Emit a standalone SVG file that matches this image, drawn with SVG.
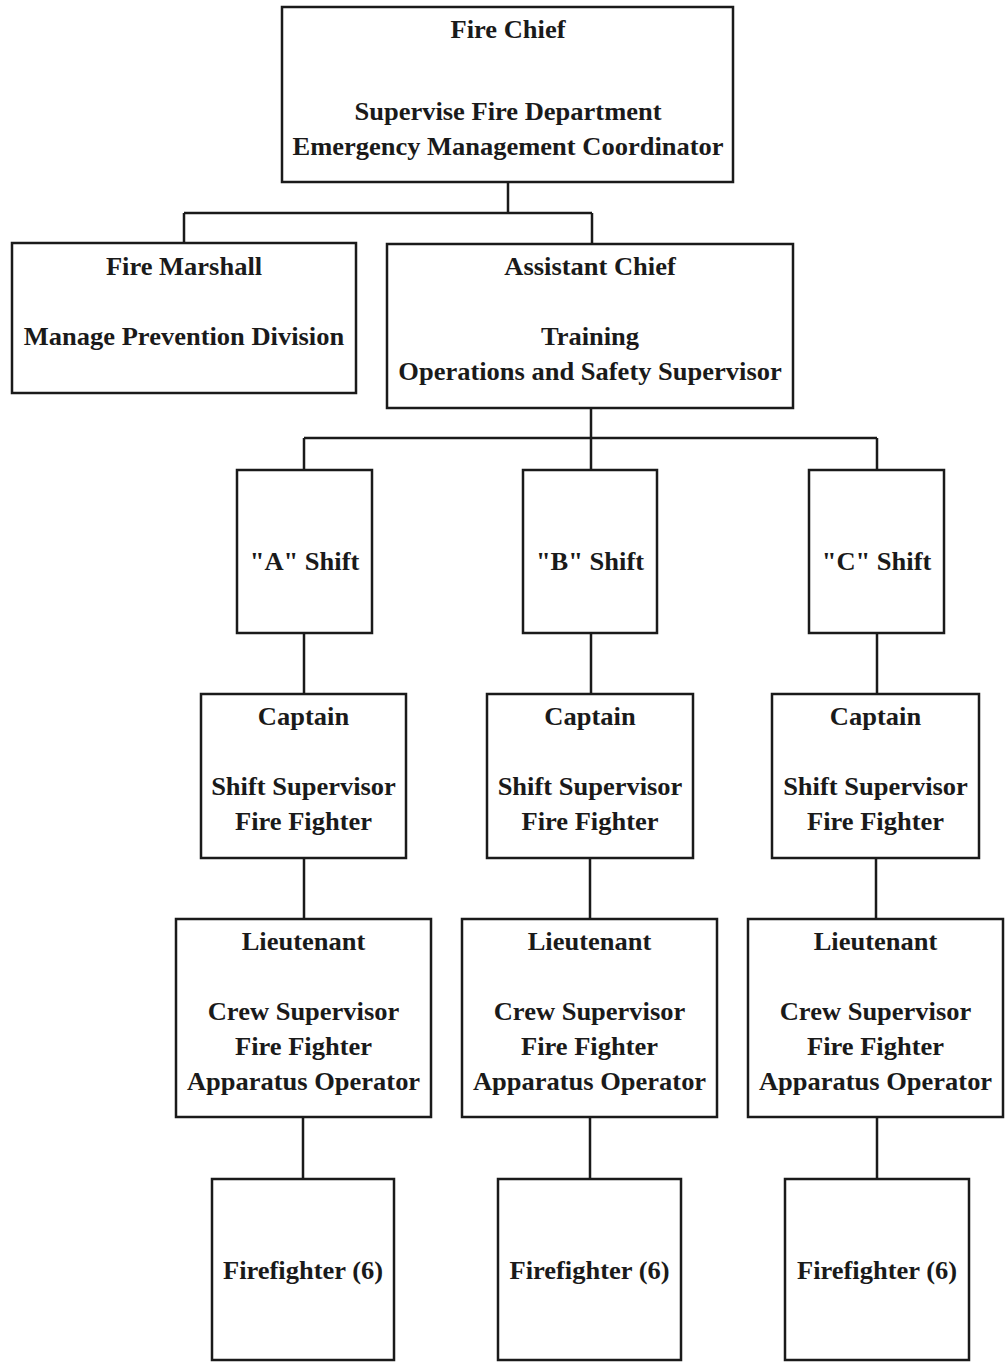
<svg xmlns="http://www.w3.org/2000/svg" width="1008" height="1362" viewBox="0 0 1008 1362">
  <style>
    .box { fill: #ffffff; stroke: #1a1a1a; stroke-width: 2.5; }
    .lbl { font-family: "Liberation Serif", "Times New Roman", serif; font-weight: bold; font-size: 25px; fill: #1a1a1a; text-anchor: middle; }
    .wire { fill: none; stroke: #1a1a1a; stroke-width: 2.5; }
  </style>
  <rect width="1008" height="1362" fill="#ffffff"/>

  <!-- connectors -->
  <g id="connectors" class="wire">
    <path d="M508 182 V213 M184 213 H592 M184 213 V243 M592 213 V244"/>
    <path d="M591 408 V438 M304 438 H877 M304 438 V470 M591 438 V470 M877 438 V470"/>
    <path d="M304 633 V694 M591 633 V694 M877 633 V694"/>
    <path d="M304 858 V919 M590 858 V919 M876 858 V919"/>
    <path d="M303 1117 V1179 M590 1117 V1179 M877 1117 V1179"/>
  </g>

  <!-- top level -->
  <g id="fire-chief">
    <rect class="box" x="282" y="7" width="451" height="175"/>
    <g transform="translate(508,0) scale(1.06,1)">
      <text class="lbl" x="0" y="38">Fire Chief</text>
      <text class="lbl" x="0" y="120">Supervise Fire Department</text>
      <text class="lbl" x="0" y="155">Emergency Management Coordinator</text>
    </g>
  </g>

  <g id="fire-marshall">
    <rect class="box" x="12" y="243" width="344" height="150"/>
    <g transform="translate(184,0) scale(1.06,1)">
      <text class="lbl" x="0" y="275">Fire Marshall</text>
      <text class="lbl" x="0" y="345">Manage Prevention Division</text>
    </g>
  </g>

  <g id="assistant-chief">
    <rect class="box" x="387" y="244" width="406" height="164"/>
    <g transform="translate(590,0) scale(1.06,1)">
      <text class="lbl" x="0" y="275">Assistant Chief</text>
      <text class="lbl" x="0" y="345">Training</text>
      <text class="lbl" x="0" y="380">Operations and Safety Supervisor</text>
    </g>
  </g>

  <!-- shifts -->
  <g id="shift-a">
    <rect class="box" x="237" y="470" width="135" height="163"/>
    <g transform="translate(304.5,0) scale(1.06,1)"><text class="lbl" x="0" y="570">"A" Shift</text></g>
  </g>
  <g id="shift-b">
    <rect class="box" x="523" y="470" width="134" height="163"/>
    <g transform="translate(590,0) scale(1.06,1)"><text class="lbl" x="0" y="570">"B" Shift</text></g>
  </g>
  <g id="shift-c">
    <rect class="box" x="809" y="470" width="135" height="163"/>
    <g transform="translate(876.5,0) scale(1.06,1)"><text class="lbl" x="0" y="570">"C" Shift</text></g>
  </g>

  <!-- captains -->
  <g id="captain-a">
    <rect class="box" x="201" y="694" width="205" height="164"/>
    <g transform="translate(303.5,0) scale(1.06,1)">
      <text class="lbl" x="0" y="725">Captain</text>
      <text class="lbl" x="0" y="795">Shift Supervisor</text>
      <text class="lbl" x="0" y="830">Fire Fighter</text>
    </g>
  </g>
  <g id="captain-b">
    <rect class="box" x="487" y="694" width="206" height="164"/>
    <g transform="translate(590,0) scale(1.06,1)">
      <text class="lbl" x="0" y="725">Captain</text>
      <text class="lbl" x="0" y="795">Shift Supervisor</text>
      <text class="lbl" x="0" y="830">Fire Fighter</text>
    </g>
  </g>
  <g id="captain-c">
    <rect class="box" x="772" y="694" width="207" height="164"/>
    <g transform="translate(875.5,0) scale(1.06,1)">
      <text class="lbl" x="0" y="725">Captain</text>
      <text class="lbl" x="0" y="795">Shift Supervisor</text>
      <text class="lbl" x="0" y="830">Fire Fighter</text>
    </g>
  </g>

  <!-- lieutenants -->
  <g id="lieutenant-a">
    <rect class="box" x="176" y="919" width="255" height="198"/>
    <g transform="translate(303.5,0) scale(1.06,1)">
      <text class="lbl" x="0" y="950">Lieutenant</text>
      <text class="lbl" x="0" y="1020">Crew Supervisor</text>
      <text class="lbl" x="0" y="1055">Fire Fighter</text>
      <text class="lbl" x="0" y="1090">Apparatus Operator</text>
    </g>
  </g>
  <g id="lieutenant-b">
    <rect class="box" x="462" y="919" width="255" height="198"/>
    <g transform="translate(589.5,0) scale(1.06,1)">
      <text class="lbl" x="0" y="950">Lieutenant</text>
      <text class="lbl" x="0" y="1020">Crew Supervisor</text>
      <text class="lbl" x="0" y="1055">Fire Fighter</text>
      <text class="lbl" x="0" y="1090">Apparatus Operator</text>
    </g>
  </g>
  <g id="lieutenant-c">
    <rect class="box" x="748" y="919" width="255" height="198"/>
    <g transform="translate(875.5,0) scale(1.06,1)">
      <text class="lbl" x="0" y="950">Lieutenant</text>
      <text class="lbl" x="0" y="1020">Crew Supervisor</text>
      <text class="lbl" x="0" y="1055">Fire Fighter</text>
      <text class="lbl" x="0" y="1090">Apparatus Operator</text>
    </g>
  </g>

  <!-- firefighters -->
  <g id="firefighters-a">
    <rect class="box" x="212" y="1179" width="182" height="181"/>
    <g transform="translate(303,0) scale(1.06,1)"><text class="lbl" x="0" y="1279">Firefighter (6)</text></g>
  </g>
  <g id="firefighters-b">
    <rect class="box" x="498" y="1179" width="183" height="181"/>
    <g transform="translate(589.5,0) scale(1.06,1)"><text class="lbl" x="0" y="1279">Firefighter (6)</text></g>
  </g>
  <g id="firefighters-c">
    <rect class="box" x="785" y="1179" width="184" height="181"/>
    <g transform="translate(877,0) scale(1.06,1)"><text class="lbl" x="0" y="1279">Firefighter (6)</text></g>
  </g>
</svg>
